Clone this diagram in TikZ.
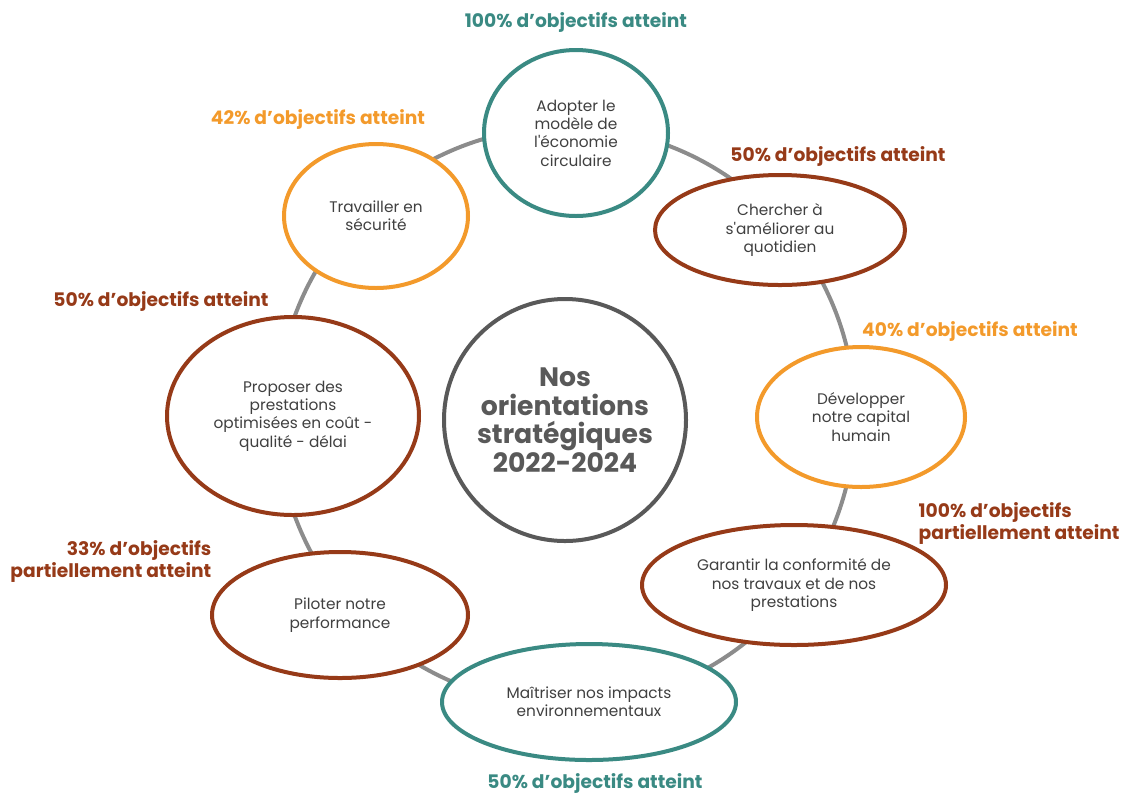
\documentclass[tikz,border=0pt]{standalone}
\usepackage{fontspec}
\setmainfont{Poppins}
\usetikzlibrary{shapes.geometric}

\definecolor{teal}{HTML}{3A8A83}
\definecolor{brique}{HTML}{963A18}
\definecolor{orange}{HTML}{F39A2B}
\definecolor{anneau}{HTML}{8C8C8C}
\definecolor{gris}{HTML}{595959}
\definecolor{texte}{HTML}{404040}

\tikzset{
  axe/.style={ellipse, draw, line width=3pt, fill=white, inner sep=0pt,
    align=center, text=texte, font=\fontsize{11.5}{13.8}\selectfont},
  score/.style={font=\bfseries\fontsize{14}{16.5}\selectfont},
}

\begin{document}
\begin{tikzpicture}[x=0.75pt, y=-0.75pt]
    \useasboundingbox (0,0) rectangle (1121,794);
    \coordinate (centre) at (566,416);
    \draw[anneau, line width=3pt] (centre) circle (289);
    % les huit orientations
    \node[axe, draw=teal, minimum width=0.75*184pt, minimum height=0.75*166pt] (a1) at (576,133) {Adopter le\\modèle de\\l\textquotesingle économie\\circulaire};
    \node[axe, draw=brique, minimum width=0.75*250pt, minimum height=0.75*110pt] (a2) at (780,230) {Chercher à\\s\textquotesingle améliorer au\\quotidien};
    \node[axe, draw=orange, minimum width=0.75*208pt, minimum height=0.75*140pt] (a3) at (861,417) {Développer\\notre capital\\humain};
    \node[axe, draw=brique, minimum width=0.75*304pt, minimum height=0.75*120pt] (a4) at (794,585) {Garantir la conformité de\\nos travaux et de nos\\prestations};
    \node[axe, draw=teal, minimum width=0.75*294pt, minimum height=0.75*116pt] (a5) at (589,702) {Maîtriser nos impacts\\environnementaux};
    \node[axe, draw=brique, minimum width=0.75*256pt, minimum height=0.75*126pt] (a6) at (340,615) {Piloter notre\\performance};
    \node[axe, draw=brique, minimum width=0.75*252pt, minimum height=0.75*198pt] (a7) at (293,416) {Proposer des\\prestations\\optimisées en coût -\\qualité - délai};
    \node[axe, draw=orange, minimum width=0.75*184pt, minimum height=0.75*144pt] (a8) at (376,216) {Travailler en\\sécurité};
    \node[circle, draw=gris, line width=3pt, fill=white, minimum size=0.75*242pt, inner sep=0pt,
      align=center, text=gris, font=\bfseries\fontsize{20}{21.5}\selectfont] (nos) at (565,420)
      {Nos\\orientations\\stratégiques\\2022-2024};
    % les scores
    \node[score, teal] (s1) at (576,22) {100\% d’objectifs atteint};
    \node[score, brique] (s2) at (838,156) {50\% d’objectifs atteint};
    \node[score, orange] (s3) at (970,331) {40\% d’objectifs atteint};
    \node[score, brique, align=left, anchor=west] (s4) at (914,523) {100\% d’objectifs\\partiellement atteint};
    \node[score, teal] (s5) at (595,783) {50\% d’objectifs atteint};
    \node[score, brique, align=right, anchor=east] (s6) at (216,561) {33\% d’objectifs\\partiellement atteint};
    \node[score, brique] (s7) at (161,301) {50\% d’objectifs atteint};
    \node[score, orange] (s8) at (318,119) {42\% d’objectifs atteint};
\end{tikzpicture}
\end{document}
